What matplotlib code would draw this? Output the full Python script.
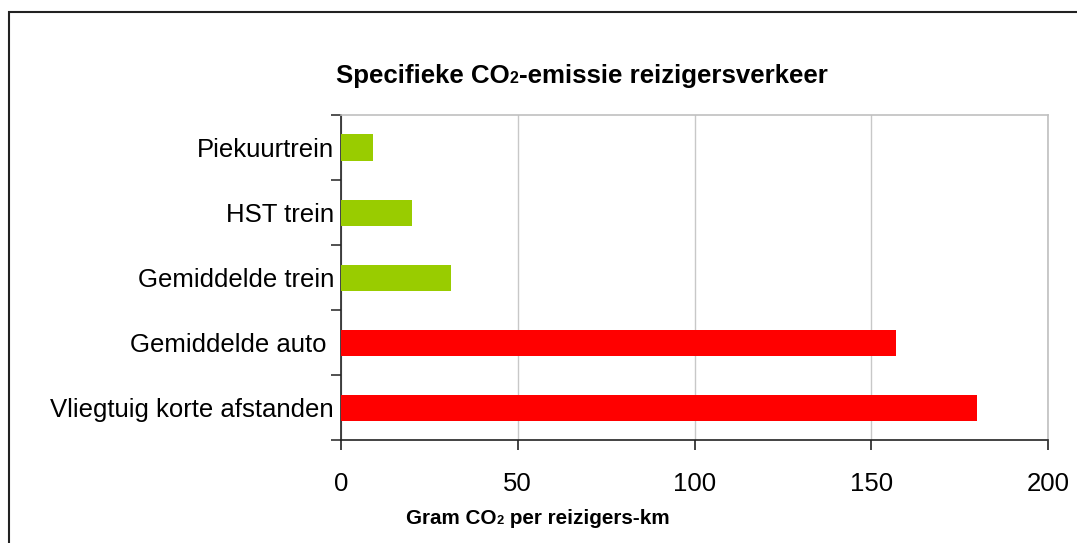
import numpy as np
import matplotlib
matplotlib.use("Agg")
import matplotlib.pyplot as plt
from matplotlib.offsetbox import TextArea, HPacker, AnchoredOffsetbox
from matplotlib.patches import Rectangle

plt.rcParams['font.family'] = ['Liberation Sans', 'DejaVu Sans']

# data (bottom to top)
categorieen = ["Vliegtuig korte afstanden", "Gemiddelde auto ", "Gemiddelde trein",
               "HST trein", "Piekuurtrein"]
waarden = [180, 157, 31, 20, 9]
kleuren = ["#ff0000", "#ff0000", "#99cc00", "#99cc00", "#99cc00"]
x_ticks = [0, 50, 100, 150, 200]

fig = plt.figure(figsize=(10.77, 5.43), dpi=100)
ax = fig.add_axes([341/1077, 1 - 440/543, (1048 - 341)/1077, (440 - 115)/543])

y = np.arange(len(categorieen))
ax.barh(y, waarden, height=0.4, color=kleuren, zorder=3)

ax.set_xlim(0, 200)
ax.set_ylim(-0.5, len(categorieen) - 0.5)
ax.set_xticks(x_ticks)
ax.set_xticklabels([str(v) for v in x_ticks])
ax.set_yticks(y)
ax.set_yticklabels(categorieen)
ax.set_yticks(np.arange(-0.5, len(categorieen)), minor=True)

ax.tick_params(axis='y', which='major', length=0, pad=5, labelsize=18.5)
ax.tick_params(axis='y', which='minor', length=7, width=1.2, color='#333333', direction='out')
ax.tick_params(axis='x', which='major', length=7, width=1.2, color='#222222',
               direction='out', pad=16, labelsize=18.5)

ax.grid(axis='x', color='#c8c8c8', linewidth=1, zorder=0)
for s in ['top', 'right']:
    ax.spines[s].set_color('#c0c0c0')
    ax.spines[s].set_linewidth(1.2)
for s in ['left', 'bottom']:
    ax.spines[s].set_color('#222222')
    ax.spines[s].set_linewidth(1.2)


def mixed_text(parts, x, y, size):
    kids = []
    for txt, small in parts:
        kids.append(TextArea(txt, textprops=dict(fontsize=size * 0.62 if small else size,
                                                  fontweight='bold', color='black')))
    pack = HPacker(children=kids, align='baseline', pad=0, sep=0)
    box = AnchoredOffsetbox(loc='center', child=pack, bbox_to_anchor=(x, y),
                            bbox_transform=fig.transFigure, frameon=False,
                            pad=0, borderpad=0)
    fig.add_artist(box)


mixed_text([("Specifieke CO", False), ("2", True), ("-emissie reizigersverkeer", False)],
           582/1077, 1 - 76/543, 18.6)
mixed_text([("Gram CO", False), ("2", True), (" per reizigers-km", False)],
           538/1077, 1 - 518/543, 14.9)

# rand om de figuur
fig.patches.append(Rectangle((9/1077, -0.2), 1.2, 0.2 + 1 - 12/543, transform=fig.transFigure,
                             fill=False, edgecolor='#222222', linewidth=1.5))

fig.savefig("out.png", dpi=100)
